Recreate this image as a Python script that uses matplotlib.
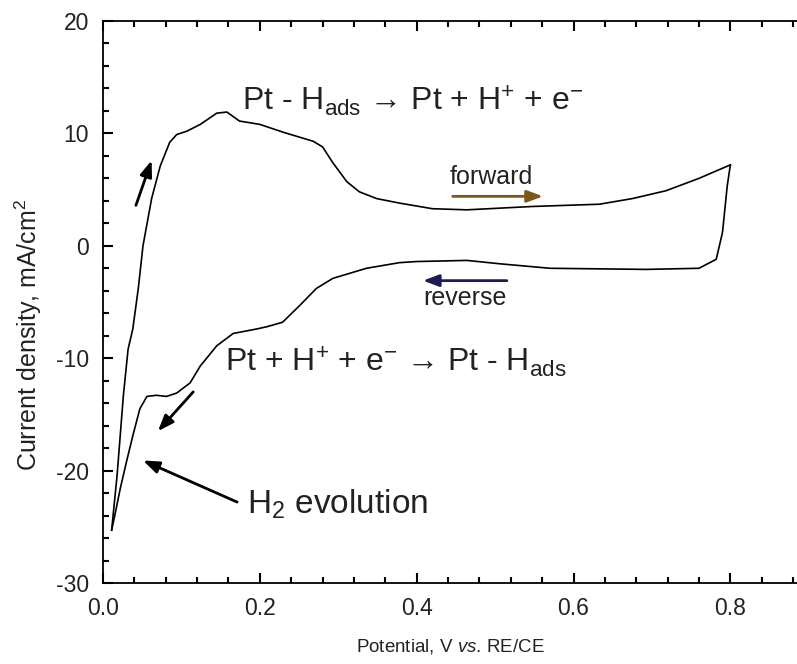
import matplotlib.pyplot as plt

# forward (anodic) scan, 0.01 V -> 0.80 V
fwd_E = [0.011, 0.018, 0.026, 0.032, 0.038, 0.045, 0.051, 0.062, 0.073, 0.085, 0.094,
         0.107, 0.124, 0.145, 0.158, 0.174, 0.200, 0.230, 0.268, 0.280, 0.293, 0.311,
         0.327, 0.349, 0.378, 0.420, 0.464, 0.548, 0.591, 0.633, 0.675, 0.718, 0.760, 0.800]
fwd_j = [-25.3, -20.4, -13.3, -9.2, -7.4, -3.8, 0.0, 4.2, 7.1, 9.2, 9.9,
         10.2, 10.8, 11.8, 11.9, 11.1, 10.8, 10.1, 9.3, 8.8, 7.4, 5.7,
         4.8, 4.2, 3.8, 3.3, 3.2, 3.5, 3.6, 3.7, 4.2, 4.9, 6.0, 7.2]

# reverse (cathodic) scan, 0.80 V -> 0.01 V
rev_E = [0.800, 0.796, 0.790, 0.782, 0.760, 0.693, 0.570, 0.506, 0.464, 0.400, 0.378,
         0.336, 0.293, 0.272, 0.251, 0.229, 0.209, 0.196, 0.166, 0.145, 0.124, 0.111,
         0.094, 0.081, 0.068, 0.056, 0.047, 0.038, 0.030, 0.022, 0.015, 0.011]
rev_j = [7.2, 5.3, 1.2, -1.2, -2.0, -2.1, -2.0, -1.6, -1.3, -1.4, -1.5,
         -2.0, -2.9, -3.8, -5.3, -6.8, -7.2, -7.4, -7.8, -8.9, -10.7, -12.2,
         -13.1, -13.4, -13.3, -13.4, -14.5, -16.9, -19.2, -21.6, -24.0, -25.3]

txt = '#222222'
plt.rcParams['font.family'] = ['Liberation Sans', 'DejaVu Sans']
plt.rcParams['mathtext.fontset'] = 'custom'
plt.rcParams['mathtext.rm'] = 'Liberation Sans'
plt.rcParams['mathtext.it'] = 'Liberation Sans:italic'
plt.rcParams['axes.unicode_minus'] = False

fig = plt.figure(figsize=(7.97, 6.64), dpi=100)
ax = fig.add_axes([103/797, 1 - 583/664, 1 - 103/797, (583 - 21)/664])

ax.plot(fwd_E, fwd_j, color='black', lw=1.2)
ax.plot(rev_E, rev_j, color='black', lw=1.2)

ax.set_xlim(0, 0.885)
ax.set_ylim(-30, 20)
ax.set_xticks([0.0, 0.2, 0.4, 0.6, 0.8])
ax.set_xticklabels(['0.0', '0.2', '0.4', '0.6', '0.8'])
ax.set_xticks([i * 0.04 for i in range(23)], minor=True)
ax.set_yticks([-30, -20, -10, 0, 10, 20])
ax.set_yticks(list(range(-30, 21, 2)), minor=True)
ax.spines['right'].set_visible(False)
ax.tick_params(which='both', direction='in', top=True, right=False, colors='black',
               labelcolor=txt, labelsize=16.5, width=1.5)
ax.tick_params(which='major', length=7, pad=10)
ax.tick_params(which='minor', length=4)
for s in ['left', 'bottom', 'top']:
    ax.spines[s].set_linewidth(1.3)

ax.set_xlabel('Potential, V $\\mathit{vs}$. RE/CE', fontsize=13.5, color=txt, labelpad=12)
fig.text(28/797, 1 - 335/664, 'Current density, mA/cm$^2$', fontsize=18, color=txt,
         rotation=90, ha='center', va='center')

ax.text(0.177, 12.0, 'Pt - H$_{\\mathrm{ads}}$ → Pt + H$^{+}$ + e$^{-}$',
        fontsize=23, color=txt, va='baseline')
ax.text(0.155, -11.2, 'Pt + H$^{+}$ + e$^{-}$ → Pt - H$_{\\mathrm{ads}}$',
        fontsize=23, color=txt, va='baseline')
ax.text(0.183, -23.8, 'H$_2$ evolution', fontsize=24, color=txt, va='baseline')
ax.text(0.442, 5.5, 'forward', fontsize=18, color=txt, va='baseline')
ax.text(0.408, -5.3, 'reverse', fontsize=18, color=txt, va='baseline')

arr = dict(arrowstyle='-|>,head_width=0.3,head_length=0.8', lw=2, mutation_scale=12,
           shrinkA=0, shrinkB=0)
ax.annotate('', xy=(0.062, 7.6), xytext=(0.042, 3.6), arrowprops=dict(arr, color='black'))
ax.annotate('', xy=(0.561, 4.4), xytext=(0.446, 4.4), arrowprops=dict(arr, color='#7a5a1a'))
ax.annotate('', xy=(0.408, -3.1), xytext=(0.515, -3.1), arrowprops=dict(arr, color='#1c1c55'))
ax.annotate('', xy=(0.070, -16.5), xytext=(0.115, -13.0), arrowprops=dict(arr, color='black'))
ax.annotate('', xy=(0.051, -19.1), xytext=(0.171, -22.8), arrowprops=dict(arr, color='black'))

fig.savefig('out.png', dpi=100)
